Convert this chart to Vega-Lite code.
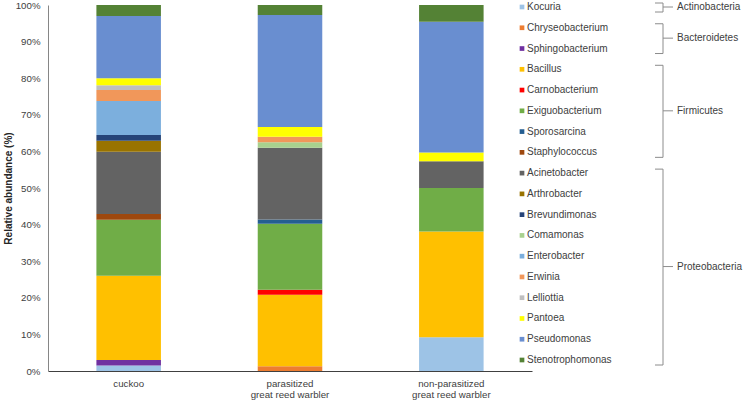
{
  "$schema": "https://vega.github.io/schema/vega-lite/v6.json",
  "padding": {"left": 3, "top": 0, "right": 0, "bottom": 0},
  "width": 484,
  "height": 366,
  "config": {"font": "Liberation Sans", "view": {"stroke": null}},
  "datasets": {
    "bars": [
      {"host": "cuckoo", "genus": "Kocuria", "rank": 0, "value": 1.5},
      {"host": "cuckoo", "genus": "Sphingobacterium", "rank": 2, "value": 1.5},
      {"host": "cuckoo", "genus": "Bacillus", "rank": 3, "value": 23},
      {"host": "cuckoo", "genus": "Exiguobacterium", "rank": 5, "value": 15.3},
      {"host": "cuckoo", "genus": "Staphylococcus", "rank": 7, "value": 1.6},
      {"host": "cuckoo", "genus": "Acinetobacter", "rank": 8, "value": 17},
      {"host": "cuckoo", "genus": "Arthrobacter", "rank": 9, "value": 3},
      {"host": "cuckoo", "genus": "Brevundimonas", "rank": 10, "value": 1.6},
      {"host": "cuckoo", "genus": "Enterobacter", "rank": 12, "value": 9.3},
      {"host": "cuckoo", "genus": "Erwinia", "rank": 13, "value": 3},
      {"host": "cuckoo", "genus": "Lelliottia", "rank": 14, "value": 1.3},
      {"host": "cuckoo", "genus": "Pantoea", "rank": 15, "value": 1.9},
      {"host": "cuckoo", "genus": "Pseudomonas", "rank": 16, "value": 17},
      {"host": "cuckoo", "genus": "Stenotrophomonas", "rank": 17, "value": 3},
      {"host": "parasitized great reed warbler", "genus": "Chryseobacterium", "rank": 1, "value": 1.3},
      {"host": "parasitized great reed warbler", "genus": "Bacillus", "rank": 3, "value": 19.5},
      {"host": "parasitized great reed warbler", "genus": "Carnobacterium", "rank": 4, "value": 1.4},
      {"host": "parasitized great reed warbler", "genus": "Exiguobacterium", "rank": 5, "value": 18},
      {"host": "parasitized great reed warbler", "genus": "Sporosarcina", "rank": 6, "value": 1.2},
      {"host": "parasitized great reed warbler", "genus": "Acinetobacter", "rank": 8, "value": 19.6},
      {"host": "parasitized great reed warbler", "genus": "Comamonas", "rank": 11, "value": 1.5},
      {"host": "parasitized great reed warbler", "genus": "Erwinia", "rank": 13, "value": 1.5},
      {"host": "parasitized great reed warbler", "genus": "Pantoea", "rank": 15, "value": 2.7},
      {"host": "parasitized great reed warbler", "genus": "Pseudomonas", "rank": 16, "value": 30.6},
      {"host": "parasitized great reed warbler", "genus": "Stenotrophomonas", "rank": 17, "value": 2.7},
      {"host": "non-parasitized great reed warbler", "genus": "Kocuria", "rank": 0, "value": 9.2},
      {"host": "non-parasitized great reed warbler", "genus": "Bacillus", "rank": 3, "value": 28.9},
      {"host": "non-parasitized great reed warbler", "genus": "Exiguobacterium", "rank": 5, "value": 11.9},
      {"host": "non-parasitized great reed warbler", "genus": "Acinetobacter", "rank": 8, "value": 7.3},
      {"host": "non-parasitized great reed warbler", "genus": "Pantoea", "rank": 15, "value": 2.4},
      {"host": "non-parasitized great reed warbler", "genus": "Pseudomonas", "rank": 16, "value": 35.7},
      {"host": "non-parasitized great reed warbler", "genus": "Stenotrophomonas", "rank": 17, "value": 4.6}
    ],
    "genera": [
      {"genus": "Kocuria", "phylum": "Actinobacteria", "rank": 0},
      {"genus": "Chryseobacterium", "phylum": "Bacteroidetes", "rank": 1},
      {"genus": "Sphingobacterium", "phylum": "Bacteroidetes", "rank": 2},
      {"genus": "Bacillus", "phylum": "Firmicutes", "rank": 3},
      {"genus": "Carnobacterium", "phylum": "Firmicutes", "rank": 4},
      {"genus": "Exiguobacterium", "phylum": "Firmicutes", "rank": 5},
      {"genus": "Sporosarcina", "phylum": "Firmicutes", "rank": 6},
      {"genus": "Staphylococcus", "phylum": "Firmicutes", "rank": 7},
      {"genus": "Acinetobacter", "phylum": "Proteobacteria", "rank": 8},
      {"genus": "Arthrobacter", "phylum": "Proteobacteria", "rank": 9},
      {"genus": "Brevundimonas", "phylum": "Proteobacteria", "rank": 10},
      {"genus": "Comamonas", "phylum": "Proteobacteria", "rank": 11},
      {"genus": "Enterobacter", "phylum": "Proteobacteria", "rank": 12},
      {"genus": "Erwinia", "phylum": "Proteobacteria", "rank": 13},
      {"genus": "Lelliottia", "phylum": "Proteobacteria", "rank": 14},
      {"genus": "Pantoea", "phylum": "Proteobacteria", "rank": 15},
      {"genus": "Pseudomonas", "phylum": "Proteobacteria", "rank": 16},
      {"genus": "Stenotrophomonas", "phylum": "Proteobacteria", "rank": 17}
    ]
  },
  "layer": [
    {
      "data": {"name": "bars"},
      "mark": {"type": "bar"},
      "encoding": {
        "x": {
          "field": "host", "type": "nominal",
          "sort": ["cuckoo", "parasitized great reed warbler", "non-parasitized great reed warbler"],
          "scale": {"paddingInner": 0.6, "paddingOuter": 0.3},
          "axis": {
            "title": null, "labelAngle": 0, "ticks": false, "tickSize": 0,
            "domainColor": "#404040", "labelColor": "#404040", "labelFontSize": 9.7,
            "labelPadding": 7, "labelLineHeight": 11.5,
            "labelExpr": "split(replace(datum.label, ' great', '|great'), '|')"
          }
        },
        "y": {
          "field": "value", "type": "quantitative", "stack": "zero",
          "scale": {"domain": [0, 100], "nice": false},
          "axis": {
            "title": "Relative abundance (%)", "titleFontWeight": "bold", "titleFontSize": 10,
            "titleColor": "#262626", "values": [0, 10, 20, 30, 40, 50, 60, 70, 80, 90, 100],
            "labelExpr": "datum.value + '%'", "ticks": false, "tickSize": 0, "grid": false,
            "domainColor": "#868686", "labelColor": "#404040", "labelFontSize": 9.7,
            "labelPadding": 8, "titlePadding": 2
          }
        },
        "color": {
          "field": "genus", "type": "nominal", "legend": null,
          "scale": {
            "domain": ["Kocuria", "Chryseobacterium", "Sphingobacterium", "Bacillus", "Carnobacterium", "Exiguobacterium", "Sporosarcina", "Staphylococcus", "Acinetobacter", "Arthrobacter", "Brevundimonas", "Comamonas", "Enterobacter", "Erwinia", "Lelliottia", "Pantoea", "Pseudomonas", "Stenotrophomonas"],
            "range": ["#9DC3E6", "#ED7D31", "#7030A0", "#FFC000", "#FF0000", "#70AD47", "#255E91", "#9E480E", "#636363", "#997300", "#264478", "#A9D18E", "#7CAFDD", "#F1975A", "#BFBFBF", "#FFFF00", "#698ED0", "#548235"]
          }
        },
        "order": {"field": "rank", "type": "quantitative", "sort": "ascending"}
      }
    },
    {
      "data": {"name": "genera"},
      "layer": [
        {
          "mark": {"type": "point", "shape": "square", "filled": true, "size": 22, "opacity": 1},
          "encoding": {
            "x": {"datum": 474, "type": "quantitative", "scale": {"domain": [0, 484]}, "axis": null},
            "y": {"field": "rank", "type": "quantitative", "scale": {"domain": [0, 17], "range": [2, 355], "nice": false, "zero": false}, "axis": null},
            "color": {"field": "genus", "type": "nominal", "legend": null}
          }
        },
        {
          "mark": {"type": "text", "align": "left", "baseline": "middle", "fontSize": 10, "color": "#404040"},
          "encoding": {
            "x": {"datum": 479, "type": "quantitative", "scale": {"domain": [0, 484]}, "axis": null},
            "y": {"field": "rank", "type": "quantitative", "scale": {"domain": [0, 17], "range": [2, 355], "nice": false, "zero": false}, "axis": null},
            "text": {"field": "genus"}
          }
        },
        {
          "mark": {"type": "rule", "color": "#8C8C8C", "strokeWidth": 1, "yOffset": -4, "y2Offset": 5},
          "encoding": {
            "x": {"datum": 615, "type": "quantitative", "scale": {"domain": [0, 484]}, "axis": null},
            "y": {"aggregate": "min", "field": "rank", "type": "quantitative", "scale": {"domain": [0, 17], "range": [2, 355], "nice": false, "zero": false}, "axis": null},
            "y2": {"aggregate": "max", "field": "rank"},
            "detail": {"field": "phylum"}
          }
        },
        {
          "mark": {"type": "rule", "color": "#8C8C8C", "strokeWidth": 1, "yOffset": -4},
          "encoding": {
            "x": {"datum": 607, "type": "quantitative", "scale": {"domain": [0, 484]}, "axis": null},
            "x2": {"datum": 615},
            "y": {"aggregate": "min", "field": "rank", "type": "quantitative", "scale": {"domain": [0, 17], "range": [2, 355], "nice": false, "zero": false}, "axis": null},
            "detail": {"field": "phylum"}
          }
        },
        {
          "mark": {"type": "rule", "color": "#8C8C8C", "strokeWidth": 1, "yOffset": 5},
          "encoding": {
            "x": {"datum": 607, "type": "quantitative", "scale": {"domain": [0, 484]}, "axis": null},
            "x2": {"datum": 615},
            "y": {"aggregate": "max", "field": "rank", "type": "quantitative", "scale": {"domain": [0, 17], "range": [2, 355], "nice": false, "zero": false}, "axis": null},
            "detail": {"field": "phylum"}
          }
        },
        {
          "mark": {"type": "rule", "color": "#8C8C8C", "strokeWidth": 1},
          "encoding": {
            "x": {"datum": 615, "type": "quantitative", "scale": {"domain": [0, 484]}, "axis": null},
            "x2": {"datum": 625},
            "y": {"aggregate": "mean", "field": "rank", "type": "quantitative", "scale": {"domain": [0, 17], "range": [2, 355], "nice": false, "zero": false}, "axis": null},
            "detail": {"field": "phylum"}
          }
        },
        {
          "mark": {"type": "text", "align": "left", "baseline": "middle", "fontSize": 10, "color": "#404040"},
          "encoding": {
            "x": {"datum": 629, "type": "quantitative", "scale": {"domain": [0, 484]}, "axis": null},
            "y": {"aggregate": "mean", "field": "rank", "type": "quantitative", "scale": {"domain": [0, 17], "range": [2, 355], "nice": false, "zero": false}, "axis": null},
            "text": {"field": "phylum"}
          }
        }
      ]
    }
  ],
  "resolve": {"scale": {"x": "independent", "y": "independent"}}
}
